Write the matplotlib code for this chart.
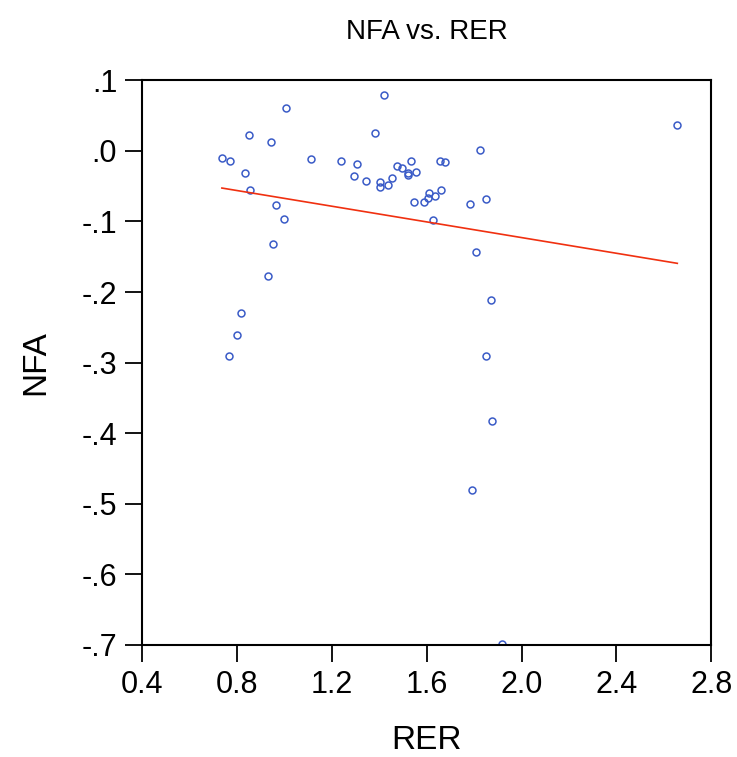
import numpy as np
import matplotlib
matplotlib.use('Agg')
import matplotlib.pyplot as plt
from matplotlib.ticker import FuncFormatter, MultipleLocator

# scatter data
rer = [0.736, 0.772, 0.850, 0.835, 0.853, 0.942, 1.006, 0.964, 0.996, 0.952,
       0.930, 1.112, 1.239, 1.304, 1.293, 1.342, 1.380, 1.418, 1.401, 1.401,
       1.437, 1.452, 1.475, 1.495, 1.534, 1.523, 1.523, 1.554, 1.548, 1.588,
       1.609, 1.606, 1.637, 1.660, 1.626, 1.654, 1.678, 1.824, 1.781, 1.851,
       1.806, 2.657, 1.870, 0.815, 0.800, 0.767, 1.852, 1.875, 1.790, 1.918]
nfa = [-0.010, -0.015, 0.022, -0.031, -0.056, 0.012, 0.061, -0.077, -0.097, -0.132,
       -0.178, -0.012, -0.015, -0.019, -0.036, -0.043, 0.025, 0.079, -0.044, -0.051,
       -0.048, -0.038, -0.021, -0.025, -0.014, -0.032, -0.034, -0.030, -0.073, -0.072,
       -0.060, -0.067, -0.064, -0.055, -0.098, -0.014, -0.016, 0.001, -0.076, -0.068,
       -0.144, 0.036, -0.212, -0.230, -0.261, -0.290, -0.291, -0.383, -0.481, -0.698]

x_ticks = [0.4, 0.8, 1.2, 1.6, 2.0, 2.4, 2.8]

plt.rcParams['font.family'] = ['Liberation Sans', 'DejaVu Sans']

fig = plt.figure(figsize=(7.37, 7.57), dpi=100)
ax = fig.add_axes([0.193, 0.148, 0.772, 0.746])

rer_arr = np.array(rer)
nfa_arr = np.array(nfa)
slope, intercept = np.polyfit(rer_arr, nfa_arr, 1)
xl = np.array([rer_arr.min(), rer_arr.max()])

ax.plot(rer, nfa, 'o', mfc='none', mec='#3a5bc7', ms=5, mew=1.1, ls='none')
ax.plot(xl, intercept + slope * xl, color='#f03010', lw=1.2)

ax.set_xlim(0.4, 2.8)
ax.set_ylim(-0.7, 0.1)
ax.set_xticks(x_ticks)
ax.xaxis.set_major_formatter(FuncFormatter(lambda v, p: f'{v:.1f}'))
ax.yaxis.set_major_locator(MultipleLocator(0.1))


def yfmt(v, p):
    s = f'{v:.1f}'
    if s == '-0.0':
        s = '0.0'
    return s.replace('0.', '.', 1)


ax.yaxis.set_major_formatter(FuncFormatter(yfmt))
ax.tick_params(direction='out', length=12, width=1.3, labelsize=22, pad=6)
for sp in ax.spines.values():
    sp.set_linewidth(1.5)

ax.set_title('NFA vs. RER', fontsize=20, pad=30)
ax.set_xlabel('RER', fontsize=24, labelpad=18)
ax.set_ylabel('NFA', fontsize=24, labelpad=22)

fig.savefig('out.png', dpi=100)
